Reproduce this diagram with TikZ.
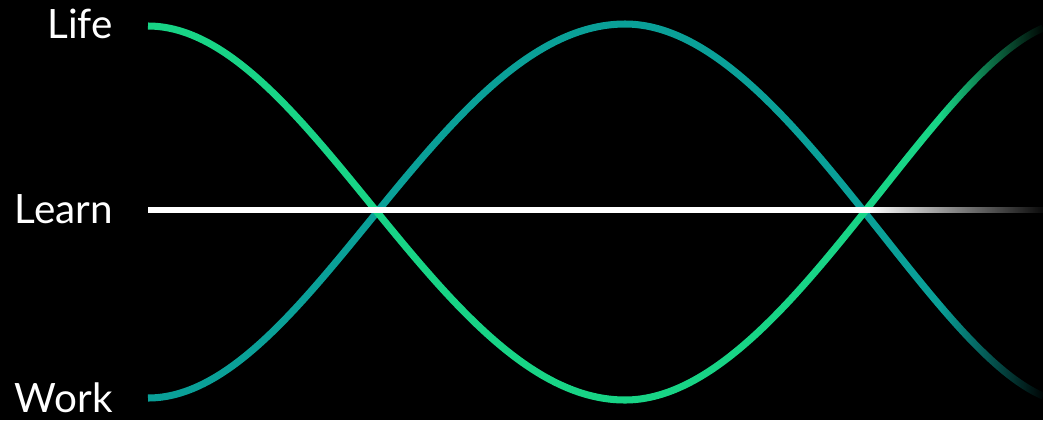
\documentclass[tikz,border=0pt]{standalone}
\usepackage{fontspec}
\setmainfont{Lato}
\usepackage{tikz}
\usetikzlibrary{fadings}
\definecolor{lifecolor}{RGB}{24, 212, 134}
\definecolor{workcolor}{RGB}{10, 160, 152}
\tikzfading[name=fadetail, left color=transparent!100, right color=transparent!0]
\tikzset{
    label/.style={text=white, font=\fontsize{23}{27}\selectfont, anchor=base east, inner sep=0pt},
    lifecurve/.style={draw=lifecolor, line width=4pt},
    workcurve/.style={draw=workcolor, line width=4pt},
    learnline/.style={draw=white, line width=3.8pt}
}
\begin{document}
\begin{tikzpicture}[x=0.02cm, y=-0.02cm]
\path[use as bounding box, fill=black] (0,0) rectangle (1043,420);
\node[label] (life) at (113,38) {Life};
\node[label] (learn) at (113,223) {Learn};
\node[label] (work) at (113,412) {Work};
\coordinate (lifeS) at (148,26);
\coordinate (lifeM) at (625,400);
\coordinate (lifeE) at (1043,28);
\coordinate (workS) at (148,398);
\coordinate (workM) at (625,24);
\coordinate (workE) at (1043,396);
\coordinate (learnS) at (148,210);
\coordinate (learnE) at (1043,210);
\draw[workcurve] (workS) .. controls +(160,0) and +(-183,0) .. (workM) .. controls +(155,0) and +(-120,-52) .. (workE);
\draw[lifecurve] (lifeS) .. controls +(160,0) and +(-183,0) .. (lifeM) .. controls +(155,0) and +(-120,52) .. (lifeE);
\fill[black, path fading=fadetail] (940,0) rectangle (1046,420);
\draw[learnline] (learnS) -- (learnE);
\fill[black, path fading=fadetail] (868,204) rectangle (1050,216);
\end{tikzpicture}
\end{document}
